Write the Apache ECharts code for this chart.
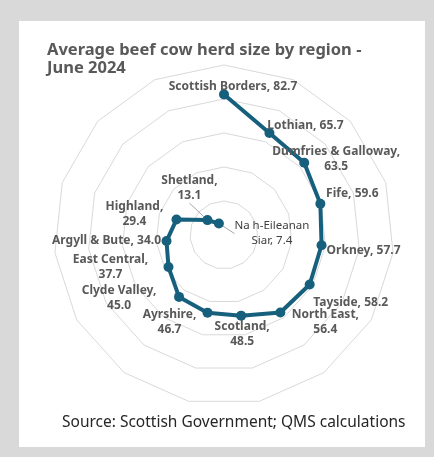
<!DOCTYPE html>
<html>
<head>
<meta charset="utf-8">
<script src="https://cdn.jsdelivr.net/npm/echarts@6/dist/echarts.min.js"></script>
<style>
  html, body { margin: 0; padding: 0; background: #d9d9d9; }
  #chart { width: 434px; height: 457px; }
</style>
</head>
<body>
<div id="chart"></div>
<script>
const categories = ['Scottish Borders', 'Lothian', 'Dumfries & Galloway', 'Fife', 'Orkney', 'Tayside', 'North East', 'Scotland', 'Ayrshire', 'Clyde Valley', 'East Central', 'Argyll & Bute', 'Highland', 'Shetland', 'Na h-Eileanan Siar'];
const herdSize = [82.7, 65.7, 63.5, 59.6, 57.7, 58.2, 56.4, 48.5, 46.7, 45.0, 37.7, 34.0, 29.4, 13.1, 7.4];
const radiusMax = 100;
const radiusSplits = 5;

// label text layout (line breaks) and label offsets (styling only)
const labelBreaks = [false, false, true, false, false, false, true, true, true, true, true, false, true, true, false];
const labelOffsets = [[9,-8],[36,-7],[32,-4],[32,-10],[42,5],[41,18],[45,10],[1,18],[-38,9],[-60,1],[-58,0],[-60,0],[-42,-5],[-18,-32],[53,10]];

const chart = echarts.init(document.getElementById('chart'), null, { renderer: 'canvas' });

const seriesData = herdSize.map((v, i) => {
  const item = { value: v };
  if (i === categories.length - 1) {
    item.label = { fontWeight: 'normal', color: '#404040', fontSize: 11.5, formatter: 'Na h-Eileanan\nSiar, ' + v.toFixed(1) };
    item.labelLine = { show: true };
  }
  if (i === 13) {
    item.labelLine = { show: true };
  }
  return item;
});

const option = {
  backgroundColor: '#d9d9d9',
  animation: false,
  graphic: [
    { type: 'rect', shape: { x: 19, y: 21, width: 406, height: 426 }, style: { fill: '#ffffff' }, z: -10, silent: true },
    { type: 'text', left: 47, top: 41, style: { text: 'Average beef cow herd size by region -\nJune 2024', font: 'bold 16.5px "Noto Sans"', fill: '#595959', lineHeight: 18 }, z: 10 },
    { type: 'text', left: 62, top: 415, style: { text: 'Source: Scottish Government; QMS calculations', font: '15.5px "Noto Sans"', fill: '#262626' }, z: 10 }
  ],
  radar: {
    center: [224, 235],
    radius: 170,
    startAngle: 90,
    splitNumber: radiusSplits,
    shape: 'polygon',
    indicator: categories.map(() => ({ name: '', max: radiusMax, min: 0 })),
    axisName: { show: false },
    axisLine: { show: false },
    axisTick: { show: false },
    axisLabel: { show: false },
    splitArea: { show: false },
    splitLine: { lineStyle: { color: '#d9d9d9', width: 1 } }
  },
  polar: { center: [224, 235], radius: 170 },
  angleAxis: {
    type: 'category',
    data: categories,
    startAngle: 90,
    clockwise: true,
    boundaryGap: false,
    axisLine: { show: false },
    axisTick: { show: false },
    axisLabel: { show: false },
    splitLine: { show: false }
  },
  radiusAxis: {
    min: 0,
    max: radiusMax,
    axisLine: { show: false },
    axisTick: { show: false },
    axisLabel: { show: false },
    splitLine: { show: false }
  },
  series: [{
    type: 'line',
    coordinateSystem: 'polar',
    data: seriesData,
    symbol: 'circle',
    symbolSize: 10,
    lineStyle: { color: '#17607d', width: 4 },
    itemStyle: { color: '#17607d' },
    z: 5,
    label: {
      show: true,
      position: 'inside',
      align: 'center',
      verticalAlign: 'middle',
      fontFamily: 'Noto Sans',
      fontWeight: 'bold',
      fontSize: 12,
      lineHeight: 15,
      color: '#595959',
      formatter: (p) => {
        const i = p.dataIndex;
        return categories[i] + ',' + (labelBreaks[i] ? '\n' : ' ') + herdSize[i].toFixed(1);
      }
    },
    labelLine: { show: false, lineStyle: { color: '#a6a6a6', width: 1 } },
    labelLayout: (params) => ({ dx: labelOffsets[params.dataIndex][0], dy: labelOffsets[params.dataIndex][1] })
  }]
};

chart.setOption(option);
</script>
</body>
</html>
